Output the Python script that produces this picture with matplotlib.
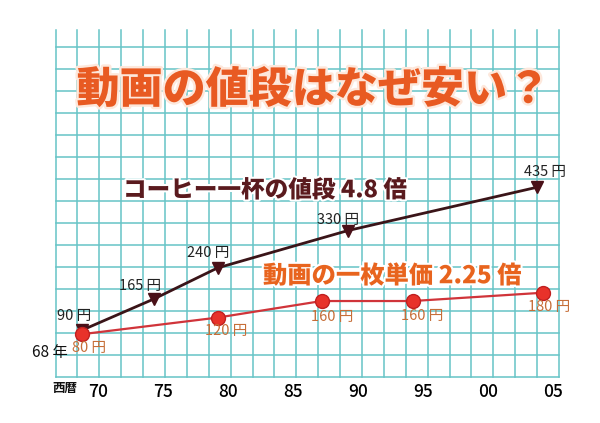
import matplotlib
matplotlib.use("Agg")
import matplotlib.pyplot as plt
import matplotlib.patheffects as pe

plt.rcParams['font.family'] = ['Noto Sans CJK JP', 'DejaVu Sans']

# データ（西暦、円）
coffee_year = [1968.8, 1974.3, 1979.2, 1989.2, 2003.8]
coffee_price = [90, 165, 240, 330, 435]
video_year = [1968.8, 1979.2, 1987.2, 1994.2, 2004.2]
video_price = [80, 120, 160, 160, 180]
xticks = [1970, 1975, 1980, 1985, 1990, 1995, 2000, 2005]
xlabels = ['70', '75', '80', '85', '90', '95', '00', '05']

# ラベルのずらし（px）
coffee_off = [(-8, 14), (-14, 13), (-9, 15), (-10, 11), (8, 15)]
video_off = [(7, -14), (9, -13), (11, -16), (10, -15), (7, -14)]

W, H = 600, 423
fig = plt.figure(figsize=(6, 4.23), dpi=100)
fig.patch.set_facecolor('white')

# 方眼の範囲（px）
gl, gr, gt, gb = 55.5, 559, 30, 377
ax = fig.add_axes([gl / W, (H - gb) / H, (gr - gl) / W, (gb - gt) / H])
ax.set_xlim(1966.73, 2005.46)
ax.set_ylim(-23.5, 814.6)
for s in ax.spines.values():
    s.set_visible(False)
ax.set_yticks([])
ax.set_xticks(xticks, xlabels, fontsize=12.5, fontweight='medium')
ax.tick_params(axis='x', length=0, pad=4)
ax.patch.set_alpha(0)

# 方眼
grid_c = '#66c4c6'
for k in range(24):
    ax.plot([k / 23, k / 23], [0, 1], color=grid_c, lw=1.1,
            transform=ax.transAxes, zorder=0, clip_on=False)
for k in range(16):
    yf = (330 - 22 * k) / 347
    ax.plot([0, 1], [yf, yf], color=grid_c, lw=1.1,
            transform=ax.transAxes, zorder=0, clip_on=False)

# 線
ax.plot(coffee_year, coffee_price, color='#3a1418', lw=2, marker='v',
        ms=9, mfc='#4a1018', mec='#4a1018', zorder=3)
ax.plot(video_year, video_price, color='#d0343a', lw=1.6, marker='o',
        ms=10, mfc='#e8322a', mec='#c02020', zorder=3)

for x, y, (dx, dy) in zip(coffee_year, coffee_price, coffee_off):
    ax.annotate(f'{y} 円', (x, y), xytext=(dx * 0.72, dy * 0.72),
                textcoords='offset points', ha='center', va='center',
                fontsize=10.5, color='#222222', zorder=4)
for x, y, (dx, dy) in zip(video_year, video_price, video_off):
    ax.annotate(f'{y} 円', (x, y), xytext=(dx * 0.72, dy * 0.72),
                textcoords='offset points', ha='center', va='center',
                fontsize=10.5, color='#c66e38', zorder=4)

def px(x, y):
    return x / W, 1 - y / H

white = [pe.withStroke(linewidth=3, foreground='white')]
fig.text(*px(50, 352), '68 年', fontsize=11, color='#111111',
         ha='center', va='center')
fig.text(*px(65, 388), '西暦', fontsize=9, fontweight='bold',
         color='#111111', ha='center', va='center')

fig.text(*px(313, 90), '動画の値段はなぜ安い？', fontsize=31,
         fontweight='heavy', color='#e85a22', ha='center', va='center',
         path_effects=[pe.withStroke(linewidth=3.5, foreground='#fde8dc')])
fig.text(*px(123, 190), 'コーヒー一杯の値段 4.8 倍', fontsize=17,
         fontweight='heavy', color='#5a1a1e', ha='left', va='center',
         path_effects=white)
fig.text(*px(263, 276), '動画の一枚単価 2.25 倍', fontsize=17.5,
         fontweight='heavy', color='#e8641e', ha='left', va='center',
         path_effects=white)

fig.savefig('out.png', dpi=100, facecolor='white')
